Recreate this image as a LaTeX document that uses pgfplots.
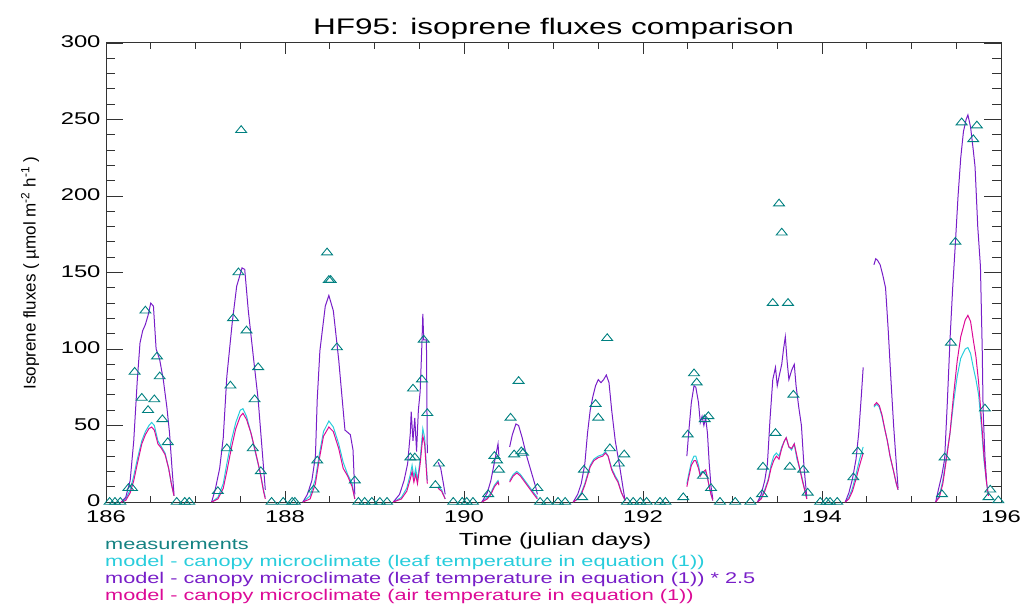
\documentclass[border=0pt]{standalone}
\usepackage{fontspec}
\setmainfont{Liberation Sans}[FakeStretch=1.4]
\newfontfamily\ylabfont{Liberation Sans}
\usepackage{pgfplots}
\pgfplotsset{compat=1.18}
\definecolor{meas}{RGB}{0,128,128}
\definecolor{meastxt}{RGB}{20,130,130}
\definecolor{cyanc}{RGB}{40,205,220}
\definecolor{purp}{RGB}{120,30,200}
\definecolor{mag}{RGB}{220,10,150}
\begin{document}
\begin{tikzpicture}[x=1bp,y=1bp]
\path[use as bounding box] (0,0) rectangle (1031,-606);
\begin{axis}[
  at={(106bp,-502bp)}, anchor=south west,
  width=895bp, height=459bp, scale only axis,
  xmin=186, xmax=196, ymin=0, ymax=300,
  xtick={186,188,...,196}, minor x tick num=3,
  ytick={0,50,...,300}, minor y tick num=4,
  tick align=inside,
  major tick length=17bp, minor tick length=9bp,
  xtick style={/pgfplots/major tick length=11bp,/pgfplots/minor tick length=6bp},
  unbounded coords=jump,
  /pgf/number format/assume math mode=true,
  ticklabel style={font=\fontsize{17bp}{20bp}\selectfont},
  xticklabel style={yshift=-5bp},
  yticklabel style={xshift=-2bp, yshift=1bp},
  axis line style={line width=1bp, black!80},
  every tick/.style={black!80, line width=0.9bp},
  clip=false,
]
% cyan: leaf temperature
\addplot[cyanc, line width=1bp] coordinates {
(186.17,0)(186.22,2)(186.27,8)(186.31,17)(186.35,28)(186.40,40)(186.44,46)(186.48,50)(186.51,52)(186.54,50)(186.58,40)(186.62,36)(186.66,32)(186.70,22)(186.73,12)(186.76,4)(186.77,nan)
(187.18,0)(187.25,3)(187.31,12)(187.35,25)(187.40,40)(187.45,52)(187.50,60)(187.53,61)(187.57,56)(187.62,45)(187.67,32)(187.72,20)(187.76,8)(187.78,3)(187.79,nan)
(188.20,0)(188.28,4)(188.34,15)(188.38,30)(188.43,46)(188.49,53)(188.54,49)(188.60,38)(188.65,26)(188.70,18)(188.75,12)(188.78,2)(188.79,nan)
(189.21,0)(189.30,3)(189.36,9)(189.40,18)(189.42,24)(189.44,16)(189.46,22)(189.48,14)(189.51,28)(189.54,48)(189.56,42)(189.59,14)(189.60,nan)(189.71,10)(189.75,8)(189.79,2)(189.80,nan)
(190.20,0)(190.26,3)(190.30,6)(190.34,11)(190.38,14)(190.39,12)(190.40,nan)(190.51,14)(190.55,18)(190.59,20)(190.63,18)(190.68,14)(190.73,10)(190.78,6)(190.82,3)(190.83,nan)
(191.22,0)(191.27,2)(191.31,6)(191.35,12)(191.38,18)(191.41,24)(191.45,28)(191.50,30)(191.55,31)(191.58,33)(191.61,30)(191.65,22)(191.69,17)(191.72,14)(191.76,6)(191.80,1)(191.81,nan)
(192.49,12)(192.51,18)(192.54,26)(192.57,30)(192.59,30)(192.62,24)(192.64,18)(192.66,20)(192.68,19)(192.70,20)(192.72,16)(192.74,10)(192.76,5)(192.78,1)(192.79,nan)
(193.28,0)(193.32,3)(193.36,8)(193.40,15)(193.43,24)(193.46,30)(193.49,32)(193.52,30)(193.55,36)(193.58,40)(193.60,42)(193.63,36)(193.66,34)(193.69,38)(193.72,28)(193.75,22)(193.78,15)(193.81,7)(193.83,2)(193.84,nan)
(194.26,0)(194.30,3)(194.34,9)(194.38,18)(194.42,28)(194.46,36)(194.47,nan)(194.58,62)(194.61,64)(194.64,62)(194.67,56)(194.70,48)(194.73,40)(194.76,30)(194.80,20)(194.83,12)(194.85,8)(194.86,nan)
(195.27,0)(195.31,4)(195.35,14)(195.39,30)(195.43,45)(195.47,65)(195.51,82)(195.55,94)(195.60,100)(195.63,101)(195.66,97)(195.69,88)(195.72,80)(195.75,70)(195.78,50)(195.81,27)(195.84,12)(195.86,4)
};
% purple: leaf temperature * 2.5
\addplot[purp, line width=1bp] coordinates {
(186.17,0)(186.22,3)(186.27,14)(186.31,40)(186.35,80)(186.38,104)(186.41,112)(186.44,116)(186.47,122)(186.50,130)(186.53,128)(186.56,100)(186.60,93)(186.64,80)(186.68,62)(186.71,45)(186.74,20)(186.76,5)(186.77,nan)
(187.18,0)(187.22,8)(187.27,22)(187.31,42)(187.35,82)(187.41,117)(187.46,141)(187.52,153)(187.55,152)(187.59,125)(187.65,93)(187.70,67)(187.75,30)(187.78,8)(187.79,nan)
(188.20,0)(188.25,5)(188.30,14)(188.34,30)(188.36,67)(188.39,99)(188.45,128)(188.49,135)(188.54,125)(188.60,93)(188.65,60)(188.67,47)(188.73,44)(188.76,34)(188.78,5)(188.79,nan)
(189.21,0)(189.28,5)(189.33,14)(189.37,25)(189.40,45)(189.41,59)(189.43,40)(189.45,55)(189.47,33)(189.49,60)(189.51,72)(189.53,104)(189.54,123)(189.55,106)(189.58,106)(189.59,32)(189.60,nan)(189.71,26)(189.74,22)(189.77,12)(189.79,5)(189.80,nan)
(190.20,0)(190.26,6)(190.30,14)(190.34,26)(190.37,35)(190.38,38)(190.39,30)(190.40,nan)(190.51,36)(190.54,44)(190.58,51)(190.61,50)(190.65,42)(190.70,30)(190.75,20)(190.80,10)(190.82,5)(190.83,nan)
(191.22,0)(191.27,5)(191.31,12)(191.35,25)(191.38,45)(191.41,60)(191.44,69)(191.47,76)(191.50,80)(191.53,78)(191.56,80)(191.59,83)(191.62,78)(191.65,60)(191.69,40)(191.74,23)(191.78,8)(191.80,1)(191.81,nan)
(192.49,30)(192.51,45)(192.54,65)(192.57,76)(192.59,75)(192.62,65)(192.64,52)(192.66,56)(192.68,50)(192.70,55)(192.72,45)(192.74,25)(192.76,10)(192.78,2)(192.79,nan)
(193.28,0)(193.32,5)(193.36,14)(193.39,25)(193.42,55)(193.45,80)(193.48,88)(193.50,76)(193.52,82)(193.55,90)(193.57,100)(193.59,108)(193.61,92)(193.63,80)(193.66,86)(193.69,90)(193.71,76)(193.74,62)(193.77,50)(193.80,22)(193.83,3)(193.84,nan)
(194.26,0)(194.30,6)(194.34,15)(194.38,28)(194.41,45)(194.44,70)(194.46,88)(194.47,nan)(194.58,155)(194.60,159)(194.62,158)(194.65,155)(194.68,148)(194.71,140)(194.74,112)(194.77,80)(194.80,50)(194.83,25)(194.85,9)(194.86,nan)
(195.27,0)(195.30,8)(195.34,18)(195.37,28)(195.40,65)(195.43,106)(195.46,140)(195.49,169)(195.52,200)(195.55,225)(195.58,242)(195.61,250)(195.63,253)(195.66,245)(195.69,230)(195.71,219)(195.74,180)(195.77,154)(195.79,100)(195.80,60)(195.82,30)(195.84,12)
};
% magenta: air temperature
\addplot[mag, line width=1bp] coordinates {
(186.17,0)(186.22,1)(186.27,6)(186.31,14)(186.35,25)(186.40,38)(186.44,44)(186.48,48)(186.51,49)(186.54,47)(186.58,38)(186.62,35)(186.66,31)(186.70,22)(186.73,12)(186.76,4)(186.77,nan)
(187.18,0)(187.25,2)(187.31,9)(187.35,20)(187.40,35)(187.45,48)(187.50,56)(187.53,58)(187.57,54)(187.62,45)(187.67,33)(187.72,20)(187.76,7)(187.78,2)(187.79,nan)
(188.20,0)(188.28,2)(188.34,12)(188.38,27)(188.43,43)(188.49,49)(188.54,46)(188.60,35)(188.65,22)(188.70,17)(188.75,10)(188.78,2)(188.79,nan)
(189.21,0)(189.30,2)(189.36,7)(189.40,15)(189.42,20)(189.44,13)(189.46,18)(189.48,12)(189.51,25)(189.54,43)(189.56,38)(189.59,12)(189.60,nan)(189.71,9)(189.75,7)(189.79,2)(189.80,nan)
(190.20,0)(190.26,2)(190.30,5)(190.34,10)(190.38,13)(190.39,11)(190.40,nan)(190.51,13)(190.55,17)(190.59,19)(190.63,17)(190.68,13)(190.73,9)(190.78,5)(190.82,2)(190.83,nan)
(191.22,0)(191.27,2)(191.31,5)(191.35,11)(191.38,17)(191.41,23)(191.45,27)(191.50,29)(191.55,30)(191.58,32)(191.61,30)(191.65,21)(191.69,16)(191.72,13)(191.76,6)(191.80,1)(191.81,nan)
(192.49,10)(192.51,16)(192.54,24)(192.57,27)(192.59,27)(192.62,22)(192.64,17)(192.66,19)(192.68,20)(192.70,21)(192.72,16)(192.74,10)(192.76,5)(192.78,1)(192.79,nan)
(193.28,0)(193.32,2)(193.36,7)(193.40,14)(193.43,22)(193.46,27)(193.49,30)(193.52,28)(193.55,35)(193.58,40)(193.60,42)(193.63,36)(193.66,35)(193.69,38)(193.72,30)(193.75,22)(193.78,14)(193.81,7)(193.83,2)(193.84,nan)
(194.26,0)(194.30,2)(194.34,7)(194.38,15)(194.42,24)(194.46,32)(194.47,nan)(194.58,63)(194.61,65)(194.64,63)(194.67,57)(194.70,48)(194.73,40)(194.76,30)(194.80,20)(194.83,12)(194.85,8)(194.86,nan)
(195.27,0)(195.31,3)(195.35,12)(195.39,28)(195.43,45)(195.47,70)(195.51,92)(195.55,108)(195.60,119)(195.63,122)(195.66,118)(195.69,106)(195.72,95)(195.75,78)(195.78,55)(195.81,30)(195.84,12)(195.86,4)
};
% measurements
\addplot[only marks, mark=triangle, mark size=4.5bp, mark options={meas, xscale=1.4, line width=0.9bp, solid}] coordinates {
(186.04,0)(186.10,0)(186.16,0)(186.25,9)(186.29,9)(186.32,85)(186.40,68)(186.44,125)(186.47,60)(186.54,67)(186.57,95)(186.60,82)(186.63,54)(186.69,39)(186.79,0)(186.88,0)(186.93,0)
(187.25,7)(187.35,35)(187.39,76)(187.42,120)(187.48,150)(187.51,243)(187.57,112)(187.64,35)(187.66,67)(187.70,88)(187.73,20)(187.85,0)(187.98,0)
(188.08,0)(188.11,0)(188.32,8)(188.36,27)(188.47,163)(188.49,145)(188.51,145)(188.58,101)(188.78,14)(188.82,0)(188.89,0)(188.97,0)(189.06,0)(189.14,0)
(189.40,29)(189.43,74)(189.45,29)(189.53,80)(189.55,106)(189.59,58)(189.68,11)(189.72,25)(189.88,0)(189.98,0)(190.03,0)
(190.10,0)(190.27,5)(190.34,30)(190.37,27)(190.39,21)(190.52,55)(190.56,31)(190.61,79)(190.64,33)(190.66,32)(190.82,9)(190.85,0)(190.93,0)(191.05,0)(191.13,0)
(191.32,3)(191.34,21)(191.47,64)(191.50,55)(191.60,107)(191.63,35)(191.73,25)(191.79,31)(191.82,0)(191.89,0)(191.97,0)(192.04,0)
(192.19,0)(192.25,0)(192.45,3)(192.50,44)(192.57,84)(192.60,78)(192.67,17)(192.69,54)(192.73,56)(192.76,9)(192.86,0)(193.03,0)(193.20,0)
(193.33,5)(193.34,23)(193.45,130)(193.48,45)(193.52,195)(193.55,176)(193.62,130)(193.64,23)(193.68,70)(193.79,21)(193.84,6)(193.98,0)(194.05,0)
(194.09,0)(194.17,0)(194.35,16)(194.40,33)
(195.34,5)(195.37,29)(195.44,104)(195.49,170)(195.56,248)(195.69,237)(195.73,246)(195.82,61)(195.86,3)(195.88,8)(195.97,1)
};
\end{axis}
\node[anchor=base, inner sep=0] at (553.5,-35) {\fontsize{22.5bp}{26bp}\selectfont HF95: isoprene fluxes comparison};
\node[anchor=base, inner sep=0] at (555,-545) {\fontsize{17.5bp}{20bp}\selectfont Time (julian days)};
\node[rotate=90, inner sep=0] at (30,-273) {\ylabfont\fontsize{17bp}{20bp}\selectfont Isoprene fluxes ( µmol m\textsuperscript{-2} h\textsuperscript{-1} )};
\begin{scope}[every node/.style={anchor=base west, inner sep=0, font=\fontsize{15.5bp}{18bp}\selectfont}]
\node[text=meastxt] at (105,-549) {measurements};
\node[text=cyanc] at (105,-566) {model - canopy microclimate (leaf temperature in equation (1))};
\node[text=purp] at (105,-583) {model - canopy microclimate (leaf temperature in equation (1)) * 2.5};
\node[text=mag] at (105,-600) {model - canopy microclimate (air temperature in equation (1))};
\end{scope}
\end{tikzpicture}
\end{document}
